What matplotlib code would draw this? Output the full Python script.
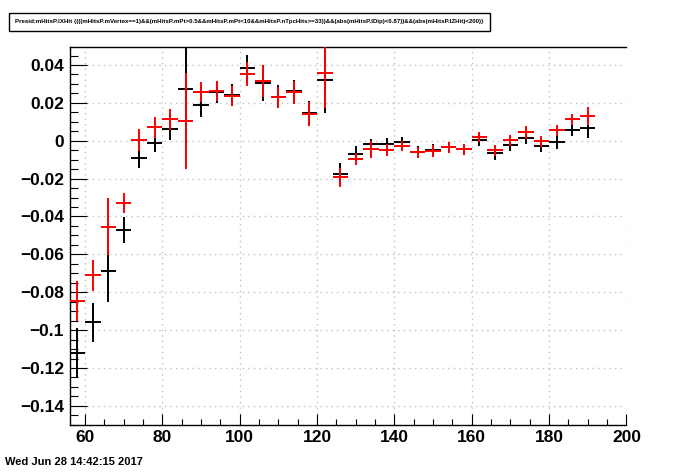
import matplotlib.pyplot as plt
from matplotlib.ticker import MultipleLocator, FuncFormatter

# bin centres (bins of width 4 from 56)
x = [58, 62, 66, 70, 74, 78, 82, 86, 90, 94, 98, 102, 106, 110, 114, 118, 122,
     126, 130, 134, 138, 142, 146, 150, 154, 158, 162, 166, 170, 174, 178, 182, 186, 190]

black_y = [-0.112, -0.0958, -0.0687, -0.0472, -0.0093, -0.0014, 0.0060, 0.0272,
           0.0187, 0.0256, 0.0240, 0.0383, 0.0303, 0.0233, 0.0261, 0.0146, 0.0319,
           -0.0178, -0.0069, -0.0019, -0.0017, -0.0009, -0.0058, -0.0051, -0.0035,
           -0.0046, 0.0002, -0.0067, -0.0024, 0.0013, -0.0030, -0.0009, 0.0055, 0.0066]
black_err = [0.013, 0.0103, 0.0164, 0.0069, 0.005, 0.0046, 0.0058, 0.030,
             0.006, 0.0055, 0.0058, 0.007, 0.0095, 0.006, 0.006, 0.0065, 0.017,
             0.0058, 0.004, 0.003, 0.003, 0.003, 0.003, 0.0033, 0.0028,
             0.0027, 0.003, 0.0035, 0.003, 0.003, 0.003, 0.0034, 0.0032, 0.005]

red_y = [-0.0847, -0.0710, -0.0454, -0.0331, 0.0004, 0.0071, 0.0113, 0.0104,
         0.0256, 0.0264, 0.0236, 0.0352, 0.0314, 0.0229, 0.0256, 0.0141, 0.0356,
         -0.0194, -0.0097, -0.0044, -0.0049, -0.0028, -0.0061, -0.0054, -0.0035,
         -0.0046, 0.0018, -0.0051, 0.0002, 0.0044, -0.0003, 0.0055, 0.0113, 0.0131]
red_err = [0.0106, 0.0082, 0.015, 0.0053, 0.0057, 0.0056, 0.0055, 0.0254,
           0.0053, 0.0053, 0.0055, 0.0065, 0.0085, 0.0055, 0.006, 0.0063, 0.0182,
           0.005, 0.003, 0.0045, 0.003, 0.0027, 0.003, 0.0033, 0.0028,
           0.0027, 0.0027, 0.003, 0.0028, 0.0033, 0.0028, 0.003, 0.003, 0.0048]

title = ("Presid:mHitsP.lXHit {(((mHitsP.mVertex==1)&&(mHitsP.mPt>0.5&&mHitsP.mPt<10"
         "&&mHitsP.nTpcHits>=33))&&(abs(mHitsP.lDip)<0.87))&&(abs(mHitsP.lZHit)<200)}")

plt.rcParams['font.family'] = ['Liberation Sans', 'DejaVu Sans']

fig = plt.figure(figsize=(6.96, 4.72), dpi=100)
ax = fig.add_axes([0.1, 0.1, 0.8, 0.8])

ax.errorbar(x, black_y, xerr=2, yerr=black_err, fmt='none', ecolor='black',
            elinewidth=1.4, capsize=0, zorder=3)
ax.errorbar(x, red_y, xerr=2, yerr=red_err, fmt='none', ecolor='red',
            elinewidth=1.4, capsize=0, zorder=4)

ax.set_xlim(56, 200)
ax.set_ylim(-0.15, 0.0494)

ax.xaxis.set_major_locator(MultipleLocator(20))
ax.xaxis.set_minor_locator(MultipleLocator(5))
ax.yaxis.set_major_locator(MultipleLocator(0.02))
ax.yaxis.set_minor_locator(MultipleLocator(0.005))


def fmt(v, pos):
    s = f"{round(v, 4):g}"
    if s == "-0":
        s = "0"
    return s.replace("-", "\u2212")


ax.yaxis.set_major_formatter(FuncFormatter(fmt))

ax.tick_params(axis='x', which='major', direction='in', length=8.2, width=0.8,
               top=False, labelsize=12.5, pad=4)
ax.tick_params(axis='x', which='minor', direction='in', length=4.1, width=0.8, top=False)
ax.tick_params(axis='y', which='major', direction='in', length=12, width=0.8,
               right=False, labelsize=12.5, pad=4)
ax.tick_params(axis='y', which='minor', direction='in', length=6, width=0.8, right=False)
for lab in ax.get_xticklabels() + ax.get_yticklabels():
    lab.set_fontweight('bold')

ax.grid(True, which='major', color='#c0c0c0', linestyle=(0, (1, 3)), linewidth=1.0, zorder=0)
ax.set_axisbelow(True)
ax.spines['right'].set_visible(False)
for s in ['left', 'bottom', 'top']:
    ax.spines[s].set_linewidth(1.0)

# title box
fig.text(0.022, 0.9535, title, fontsize=4.45, fontweight='bold', va='center', ha='left',
         bbox=dict(boxstyle='square,pad=1.05', facecolor='white', edgecolor='black', linewidth=1.0))

fig.text(0.007, 0.021, "Wed Jun 28 14:42:15 2017", fontsize=8, fontweight='bold',
         va='center', ha='left')

fig.savefig('out.png', dpi=100)
